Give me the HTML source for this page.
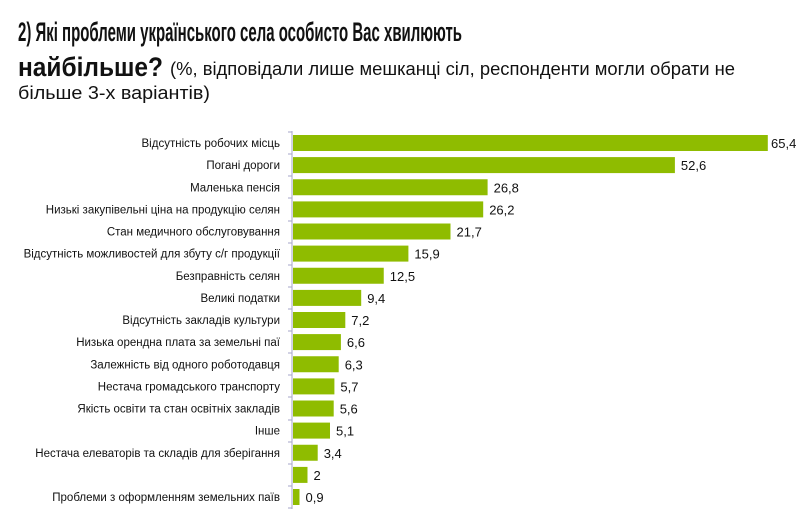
<!DOCTYPE html>
<html><head><meta charset="utf-8"><style>
html,body{margin:0;padding:0;background:#fff;}
svg{display:block;font-family:"Liberation Sans",sans-serif;}
</style></head><body>
<svg width="800" height="521" viewBox="0 0 800 521" xmlns="http://www.w3.org/2000/svg">
<text x="18" y="41" font-size="27" font-weight="bold" fill="#111" textLength="444" lengthAdjust="spacingAndGlyphs">2) Які проблеми українського села особисто Вас хвилюють</text>
<text x="18" y="76" font-size="27" font-weight="bold" fill="#111" textLength="145" lengthAdjust="spacingAndGlyphs">найбільше?</text>
<text x="170" y="75" font-size="18" fill="#111" textLength="565" lengthAdjust="spacingAndGlyphs">(%, відповідали лише мешканці сіл, респонденти могли обрати не</text>
<text x="18" y="99" font-size="18" fill="#111" textLength="192" lengthAdjust="spacingAndGlyphs">більше 3-х варіантів)</text>
<line x1="292" y1="131" x2="292" y2="509" stroke="#a6a6c8" stroke-width="1"/>
<g fill="#8fbc00">
<rect x="293" y="135" width="474.8" height="16"/>
<rect x="293" y="157.1" width="381.9" height="16"/>
<rect x="293" y="179.25" width="194.6" height="16"/>
<rect x="293" y="201.4" width="190.2" height="16"/>
<rect x="293" y="223.5" width="157.5" height="16"/>
<rect x="293" y="245.6" width="115.4" height="16"/>
<rect x="293" y="267.75" width="90.75" height="16"/>
<rect x="293" y="289.9" width="68.2" height="16"/>
<rect x="293" y="312" width="52.3" height="16"/>
<rect x="293" y="334.1" width="47.9" height="16"/>
<rect x="293" y="356.25" width="45.7" height="16"/>
<rect x="293" y="378.4" width="41.4" height="16"/>
<rect x="293" y="400.5" width="40.7" height="16"/>
<rect x="293" y="422.6" width="37" height="16"/>
<rect x="293" y="444.75" width="24.7" height="16"/>
<rect x="293" y="466.9" width="14.5" height="16"/>
<rect x="293" y="489" width="6.5" height="16"/>
</g>
<g font-size="11.5" fill="#111" text-anchor="end">
<text x="280" y="147">Відсутність робочих місць</text>
<text x="280" y="169.1">Погані дороги</text>
<text x="280" y="191.25">Маленька пенсія</text>
<text x="280" y="213.4">Низькі закупівельні ціна на продукцію селян</text>
<text x="280" y="235.5">Стан медичного обслуговування</text>
<text x="280" y="257.6">Відсутність можливостей для збуту с/г продукції</text>
<text x="280" y="279.75">Безправність селян</text>
<text x="280" y="301.9">Великі податки</text>
<text x="280" y="324">Відсутність закладів культури</text>
<text x="280" y="346.1">Низька орендна плата за земельні паї</text>
<text x="280" y="368.25">Залежність від одного роботодавця</text>
<text x="280" y="390.4">Нестача громадського транспорту</text>
<text x="280" y="412.5">Якість освіти та стан освітніх закладів</text>
<text x="280" y="434.6">Інше</text>
<text x="280" y="456.75">Нестача елеваторів та складів для зберігання</text>
<text x="280" y="501">Проблеми з оформленням земельних паїв</text>
</g>
<g font-size="13" fill="#111">
<text x="771" y="148">65,4</text>
<text x="680.9" y="170.1">52,6</text>
<text x="493.6" y="192.25">26,8</text>
<text x="489.2" y="214.4">26,2</text>
<text x="456.5" y="236.5">21,7</text>
<text x="414.4" y="258.6">15,9</text>
<text x="389.75" y="280.75">12,5</text>
<text x="367.2" y="302.9">9,4</text>
<text x="351.3" y="325">7,2</text>
<text x="346.9" y="347.1">6,6</text>
<text x="344.7" y="369.25">6,3</text>
<text x="340.4" y="391.4">5,7</text>
<text x="339.7" y="413.5">5,6</text>
<text x="336" y="435.6">5,1</text>
<text x="323.7" y="457.75">3,4</text>
<text x="313.5" y="479.9">2</text>
<text x="305.5" y="502">0,9</text>
</g>
<g stroke="#a6a6c8">
<line x1="288" x2="292" y1="132" y2="132"/><line x1="288" x2="292" y1="154" y2="154"/><line x1="288" x2="292" y1="176" y2="176"/><line x1="288" x2="292" y1="198" y2="198"/><line x1="288" x2="292" y1="221" y2="221"/><line x1="288" x2="292" y1="243" y2="243"/><line x1="288" x2="292" y1="265" y2="265"/><line x1="288" x2="292" y1="287" y2="287"/><line x1="288" x2="292" y1="309" y2="309"/><line x1="288" x2="292" y1="331" y2="331"/><line x1="288" x2="292" y1="353" y2="353"/><line x1="288" x2="292" y1="375" y2="375"/><line x1="288" x2="292" y1="397" y2="397"/><line x1="288" x2="292" y1="420" y2="420"/><line x1="288" x2="292" y1="442" y2="442"/><line x1="288" x2="292" y1="464" y2="464"/><line x1="288" x2="292" y1="486" y2="486"/><line x1="288" x2="292" y1="508" y2="508"/>
</g>
</svg>
</body></html>
